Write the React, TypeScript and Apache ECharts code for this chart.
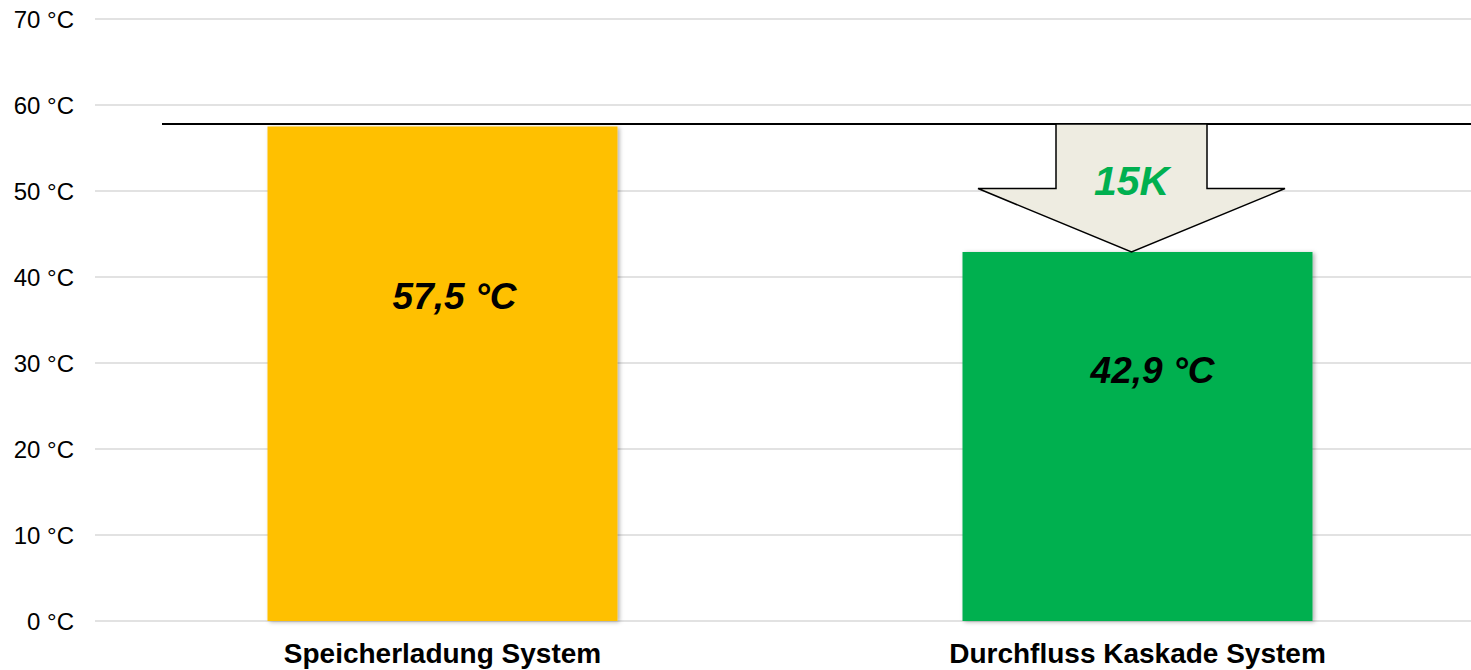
import React, { useEffect, useRef } from "react";
import * as echarts from "echarts";

// Chart data
const categories = ["Speicherladung System", "Durchfluss Kaskade System"];
const temperatures = [57.5, 42.9];
const barColors = ["#FFC000", "#00B050"];
const valueLabels = ["57,5 °C", "42,9 °C"];
const yTicks = { min: 0, max: 70, interval: 10 };
// Reference level drawn as a black line across the plot
const referenceLevel = 57.8;
const differenceLabel = "15K";

const FONT = '"Liberation Sans", Arial, Helvetica, sans-serif';

export default function App() {
  const ref = useRef<HTMLDivElement>(null);

  useEffect(() => {
    if (!ref.current) return;
    const chart = echarts.init(ref.current, undefined, { renderer: "svg" });

    const labelPositions: [number, number][] = [
      [187, 170],
      [190, 118],
    ];

    chart.setOption({
      animation: false,
      grid: {
        left: 95,
        right: -14,
        top: 19,
        bottom: 49,
        containLabel: false,
        outerBoundsMode: "none",
      },
      xAxis: {
        type: "category",
        data: categories,
        axisLine: { show: false },
        axisTick: { show: false },
        axisLabel: {
          fontFamily: FONT,
          fontSize: 28,
          fontWeight: "bold",
          color: "#000",
          margin: 18,
        },
      },
      yAxis: {
        type: "value",
        min: yTicks.min,
        max: yTicks.max,
        interval: yTicks.interval,
        axisLine: { show: false },
        axisTick: { show: false },
        splitLine: { lineStyle: { color: "#d9d9d9", width: 1.5 } },
        axisLabel: {
          formatter: "{value} °C",
          fontFamily: FONT,
          fontSize: 24,
          color: "#000",
          margin: 21,
        },
      },
      series: [
        {
          type: "bar",
          barWidth: 350,
          data: temperatures.map((v, i) => ({
            value: v,
            itemStyle: {
              color: barColors[i],
              shadowColor: "rgba(0,0,0,0.3)",
              shadowBlur: 4,
              shadowOffsetX: 2,
              shadowOffsetY: 1,
            },
            label: {
              show: true,
              formatter: valueLabels[i],
              position: labelPositions[i],
              align: "center",
              verticalAlign: "middle",
              fontFamily: FONT,
              fontSize: 37,
              fontWeight: "bold",
              fontStyle: "italic",
              color: "#000",
            },
          })),
        },
      ],
    });

    // Reference line and difference arrow, positioned through the axes
    const [, lineY] = chart.convertToPixel({ gridIndex: 0 }, [0, referenceLevel]) as number[];
    const [bx, tipY] = chart.convertToPixel({ gridIndex: 0 }, [1, temperatures[1]]) as number[];
    const width = chart.getWidth();

    const cx = bx - 6;
    const shaftHalf = 75.5;
    const headHalf = 153.5;
    const headHeight = 63.5;
    const baseY = tipY - headHeight;

    chart.setOption({
      graphic: [
        {
          type: "line",
          z: 10,
          shape: { x1: 162, y1: lineY, x2: width, y2: lineY },
          style: { stroke: "#000", lineWidth: 2 },
        },
        {
          type: "polygon",
          z: 11,
          shape: {
            points: [
              [cx - shaftHalf, lineY],
              [cx + shaftHalf, lineY],
              [cx + shaftHalf, baseY],
              [cx + headHalf, baseY],
              [cx, tipY],
              [cx - headHalf, baseY],
              [cx - shaftHalf, baseY],
            ],
          },
          style: { fill: "#EEECE1", stroke: "#000", lineWidth: 1.5 },
        },
        {
          type: "text",
          z: 12,
          x: cx,
          y: lineY + 57,
          style: {
            text: differenceLabel,
            align: "center",
            verticalAlign: "middle",
            fontFamily: FONT,
            fontSize: 41,
            fontWeight: "bold",
            fontStyle: "italic",
            fill: "#00B050",
          },
        },
      ],
    });

    return () => chart.dispose();
  }, []);

  return (
    <div
      ref={ref}
      style={{ position: "absolute", left: 0, top: 0, width: 1471, height: 670, background: "#fff" }}
    />
  );
}
